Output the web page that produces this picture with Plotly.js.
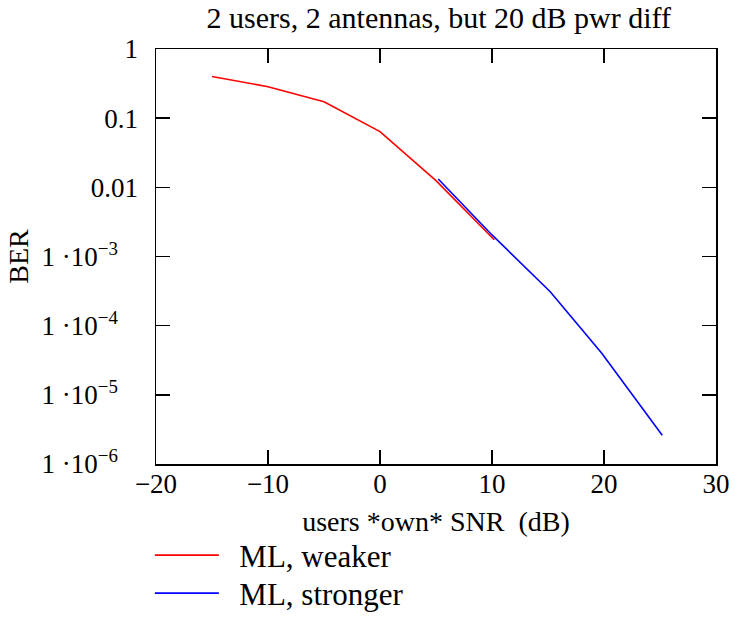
<!DOCTYPE html>
<html>
<head>
<meta charset="utf-8">
<script src="https://cdn.plot.ly/plotly-3.0.1.min.js"></script>
<style>html,body{margin:0;padding:0;background:#fff;}</style>
</head>
<body>
<div id="chart" style="width:735px;height:617px;"></div>
<script>
// Data
const weakerSNR = [-15, -10, -5, 0, 5, 10.2];
const weakerBER = [0.40, 0.285, 0.173, 0.064, 0.0125, 0.00175];
const strongerSNR = [5.2, 10, 15.2, 19.8, 25.2];
const strongerBER = [0.0132, 0.00205, 0.00031, 0.00004, 0.0000026];
const xTicks = [-20, -10, 0, 10, 20, 30];
const xTickText = ["\u221220", "\u221210", "0", "10", "20", "30"];
const yTicks = [1, 0.1, 0.01, 1e-3, 1e-4, 1e-5, 1e-6];
const yTickText = ["1", "0.1", "0.01",
  "1 \u00b710<sup>\u22123</sup>\u00a0\u00a0\u00a0",
  "1 \u00b710<sup>\u22124</sup>\u00a0\u00a0\u00a0",
  "1 \u00b710<sup>\u22125</sup>\u00a0\u00a0\u00a0",
  "1 \u00b710<sup>\u22126</sup>\u00a0\u00a0\u00a0"];
const seriesNames = ["ML, weaker", "ML, stronger"];

const FONT = "Liberation Serif";

const traces = [
  {x: weakerSNR, y: weakerBER, mode: "lines", name: "\u2002" + seriesNames[0],
   legend: "legend", line: {color: "#ff0000", width: 1.6}},
  {x: strongerSNR, y: strongerBER, mode: "lines", name: "\u2002" + seriesNames[1],
   legend: "legend2", line: {color: "#0000ff", width: 1.6}}
];

const legendStyle = {x: -0.011, xanchor: "left", yanchor: "top",
  font: {size: 31}, bgcolor: "rgba(0,0,0,0)", itemwidth: 64};

const layout = {
  width: 735, height: 617,
  margin: {l: 156, r: 19, t: 49, b: 153, autoexpand: false},
  paper_bgcolor: "#fff", plot_bgcolor: "#fff",
  font: {family: FONT, color: "#000", size: 27},
  title: {text: "2 users, 2 antennas, but 20 dB pwr diff", font: {size: 30},
          x: 0.505, xref: "paper", xanchor: "center", y: 0.972, yanchor: "middle"},
  xaxis: {
    range: [-20, 30], tickvals: xTicks, ticktext: xTickText, automargin: false,
    ticks: "inside", ticklen: 14, tickwidth: 1.5, tickcolor: "#000",
    showline: true, linecolor: "#000", linewidth: 1.5, mirror: "ticks",
    showgrid: false, zeroline: false,
    tickfont: {size: 27}, ticklabelstandoff: -5,
    title: {text: "users *own* SNR  (dB)", font: {size: 28}, standoff: 13}
  },
  yaxis: {
    type: "log", range: [-6, 0], tickvals: yTicks, ticktext: yTickText, automargin: false,
    ticks: "inside", ticklen: 14, tickwidth: 1.5, tickcolor: "#000",
    showline: true, linecolor: "#000", linewidth: 1.5, mirror: "ticks",
    showgrid: false, zeroline: false,
    tickfont: {size: 27}, ticklabelstandoff: 11,
    title: {text: "BER", font: {size: 28}, standoff: 4}
  },
  showlegend: true,
  legend: Object.assign({}, legendStyle, {y: -0.1554}),
  legend2: Object.assign({}, legendStyle, {y: -0.247})
};

Plotly.newPlot("chart", traces, layout, {displayModeBar: false, staticPlot: true});
</script>
</body>
</html>
